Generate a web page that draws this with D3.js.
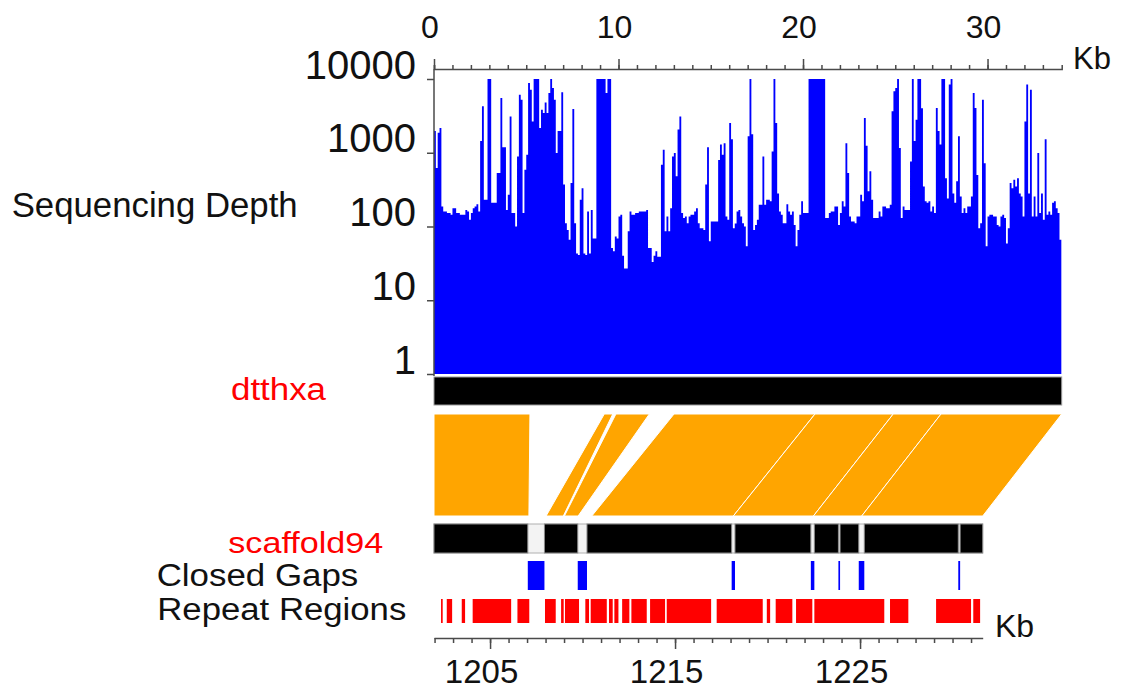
<!DOCTYPE html>
<html><head><meta charset="utf-8">
<script src="https://cdn.jsdelivr.net/npm/d3@7"></script>
<style>
body{margin:0;background:#fff;}
text{font-family:"Liberation Sans",Arial,sans-serif;}
</style>
</head><body>
<svg id="chart" width="1124" height="693"></svg>
<script>
// ---------------- DATA ----------------
// sequencing depth, one value per 0.1 kb step along dtthxa (0 .. 34 kb)
const depthStepKb = 0.1;
const depthValues = [
 1970,620,1870,2160,187,160,160,152,152,144,
 177,177,152,152,144,144,144,168,160,123,
 152,177,187,200,160,1440,4260,230,230,10000,
 10000,210,210,210,530,530,5520,1190,1190,168,
 270,3110,152,152,100,890,6120,5240,152,590,
 940,8830,7160,2660,10000,10000,10000,2160,3840,3450,
 4820,3450,6460,10000,7550,5240,990,1970,1970,6600,
 370,111,90,66,390,3920,111,43,41,230,
 330,43,41,160,43,168,69,69,10000,10000,
 10000,10000,10000,6460,10000,10000,51,46,73,69,
 137,144,40,27,27,86,160,144,144,152,
 152,160,160,160,160,168,51,51,33,40,
 46,39,39,690,1100,86,137,86,177,890,
 990,480,2060,3110,152,130,137,111,137,144,
 144,160,177,111,95,95,90,370,1190,63,
 117,117,117,117,800,1290,940,1350,137,123,
 2530,1520,95,110,160,168,137,111,100,54,
 1670,10000,1780,90,105,123,197,197,890,197,
 230,230,220,1040,10000,2530,280,160,144,111,
 111,200,160,144,160,105,54,90,144,220,
 152,152,152,10000,10000,10000,10000,10000,10000,10000,
 10000,10000,130,130,152,160,160,187,187,105,
 152,220,187,1350,530,137,117,117,111,137,
 137,270,220,2960,1240,300,560,230,130,130,
 130,160,137,187,187,177,177,197,3640,6800,
 7550,10000,1160,130,187,168,168,168,760,10000,
 1440,2810,10000,10000,4000,350,220,210,220,160,
 187,152,4040,1970,1290,10000,10000,450,240,8400,
 10000,280,210,410,1670,255,152,177,152,187,
 187,255,6460,4040,500,95,111,5240,720,54,
 137,144,144,137,137,105,100,137,144,130,
 59,95,390,330,430,350,450,280,255,137,
 2660,8400,280,7160,137,255,137,990,152,280,
 123,1520,144,160,144,210,220,177,152,66
];
const depthTicks = [1, 10, 100, 1000, 10000];
const topMajorTicks = [0, 10, 20, 30];
const bottomMajorTicks = [1205, 1215, 1225];

const contigName = "dtthxa";
const contigLengthKb = 34.02;
const scaffoldName = "scaffold94";
const scaffoldStartKb = 1201.97;
const scaffoldEndKb = 1231.63;

// alignments: contig interval (kb) -> scaffold interval (kb)
const alignContig = [[0,5.2],[9.23,9.69],[9.86,11.67],[13.01,20.65],[20.65,24.89],[24.89,27.48],[27.48,34.02]];
const alignScaffold = [[1201.97,1207.1],[1208.03,1208.96],[1209.02,1209.76],[1210.5,1218.15],[1218.15,1222.48],[1222.48,1225.09],[1225.09,1231.63]];

const closedGaps = [[1207.04,1207.94],[1209.74,1210.24],[1218.06,1218.24],[1222.34,1222.53],[1223.83,1223.92],[1224.93,1225.23],[1230.31,1230.41]];

const repeatRegions = [
 [1202.35,1202.44],[1202.66,1202.95],[1203.47,1203.65],[1204.06,1206.14],[1206.48,1207.12],
 [1207.97,1208.55],[1208.84,1208.98],[1209.05,1209.81],[1210.15,1210.35],[1210.44,1211.31],
 [1211.43,1211.63],[1211.72,1211.94],[1212.14,1212.53],[1212.64,1213.47],[1213.65,1214.46],
 [1214.55,1216.95],[1217.25,1219.74],[1219.96,1220.14],[1220.44,1221.34],[1221.54,1222.42],
 [1222.53,1226.31],[1226.62,1227.61],[1229.11,1231.0],[1231.12,1231.49]
];

// ---------------- DRAW ----------------
const svg = d3.select("#chart");
const axisColor = "#4a4a4a";

const xTop = d3.scaleLinear().domain([0, contigLengthKb]).range([434, 1061.7]);
const xBot = d3.scaleLinear().domain([scaffoldStartKb, scaffoldEndKb]).range([434, 982.7]);
const y = d3.scaleLog().domain([1, 10000]).range([374, 79]);

// depth area
const pts = depthValues.map((v, i) => ({x: i * depthStepKb, v}));
pts.push({x: depthValues.length * depthStepKb, v: depthValues[depthValues.length - 1]});
const area = d3.area().curve(d3.curveStepAfter)
  .x(d => xTop(d.x)).y0(y(1)).y1(d => y(Math.min(d.v, 10000)));
svg.append("path").datum(pts).attr("d", area).attr("fill", "#0000ff");

// top axis: minor + major
const topMinor = svg.append("g").attr("transform", "translate(0,69)")
  .call(d3.axisTop(xTop).tickValues(d3.range(0, 34)).tickSize(4).tickSizeOuter(4).tickFormat(""));
const topMajor = svg.append("g").attr("transform", "translate(0,69)")
  .call(d3.axisTop(xTop).tickValues(topMajorTicks).tickSize(10).tickSizeOuter(0).tickFormat(d3.format("d")));
topMajor.select(".domain").remove();
[topMinor, topMajor].forEach(g => {
  g.selectAll("path,line").attr("stroke", axisColor).attr("stroke-width", 1.5);
});
topMajor.selectAll("text").attr("y", -31).attr("dy", 0).attr("dx", -4.5)
  .attr("font-size", 32).attr("fill", "#111").style("font-family", '"Liberation Sans",Arial,sans-serif');
svg.append("text").attr("x", 1073).attr("y", 69).attr("font-size", 31).attr("fill", "#111").text("Kb");

// y axis
const yAx = svg.append("g").attr("transform", "translate(434,0)")
  .call(d3.axisLeft(y).tickValues(depthTicks).tickSize(7).tickSizeOuter(0).tickFormat(d3.format("d")));
yAx.select(".domain").remove();
yAx.selectAll("line").attr("stroke", axisColor).attr("stroke-width", 1.5);
yAx.selectAll("text").attr("x", -18).attr("dy", 0).attr("y", -1)
  .attr("font-size", 40).attr("fill", "#111").style("font-family", '"Liberation Sans",Arial,sans-serif');
svg.append("line").attr("x1", 434).attr("x2", 434).attr("y1", 69).attr("y2", 376)
  .attr("stroke", axisColor).attr("stroke-width", 1.5);

svg.append("text").attr("x", 11.7).attr("y", 216.7).attr("font-size", 35).attr("fill", "#111")
  .attr("textLength", 286).attr("lengthAdjust", "spacingAndGlyphs").text("Sequencing Depth");

// contig bar
svg.append("rect").attr("x", xTop(0)).attr("y", 377).attr("width", xTop(contigLengthKb) - xTop(0)).attr("height", 28)
  .attr("fill", "#000").attr("stroke", "#9a9a9a").attr("stroke-width", 1);
svg.append("text").attr("x", 231).attr("y", 400).attr("font-size", 31).attr("fill", "#ff0000")
  .attr("textLength", 95).attr("lengthAdjust", "spacingAndGlyphs").text(contigName);

// alignments
svg.append("g").selectAll("polygon").data(alignContig.map((c, i) => ({c, s: alignScaffold[i]})))
  .join("polygon")
  .attr("points", d => [[xTop(d.c[0]), 414], [xTop(d.c[1]), 414], [xBot(d.s[1]), 516], [xBot(d.s[0]), 516]].map(p => p.join(",")).join(" "))
  .attr("fill", "#ffa500").attr("stroke", "#fff").attr("stroke-width", 1).attr("stroke-linejoin", "round");

// scaffold bar with gaps
svg.append("rect").attr("x", xBot(scaffoldStartKb)).attr("y", 524).attr("width", xBot(scaffoldEndKb) - xBot(scaffoldStartKb)).attr("height", 29)
  .attr("fill", "#f3f3f3").attr("stroke", "#b0b0b0").attr("stroke-width", 1);
const bounds = [scaffoldStartKb, ...closedGaps.flat(), scaffoldEndKb];
const segs = [];
for (let i = 0; i < bounds.length; i += 2) segs.push([bounds[i], bounds[i + 1]]);
svg.append("g").selectAll("rect").data(segs).join("rect")
  .attr("x", d => xBot(d[0])).attr("y", 524).attr("width", d => xBot(d[1]) - xBot(d[0])).attr("height", 29)
  .attr("fill", "#000").attr("stroke", "#8a8a8a").attr("stroke-width", 1);
svg.append("text").attr("x", 228.3).attr("y", 553).attr("font-size", 30).attr("fill", "#ff0000")
  .attr("textLength", 155).attr("lengthAdjust", "spacingAndGlyphs").text(scaffoldName);

// closed gaps
svg.append("g").selectAll("rect").data(closedGaps).join("rect")
  .attr("x", d => xBot(d[0])).attr("y", 561).attr("width", d => Math.max(1.5, xBot(d[1]) - xBot(d[0]))).attr("height", 29)
  .attr("fill", "#0000ff");
svg.append("text").attr("x", 156.7).attr("y", 586).attr("font-size", 31).attr("fill", "#111")
  .attr("textLength", 201.6).attr("lengthAdjust", "spacingAndGlyphs").text("Closed Gaps");

// repeat regions
svg.append("g").selectAll("rect").data(repeatRegions).join("rect")
  .attr("x", d => xBot(d[0])).attr("y", 599).attr("width", d => Math.max(1.5, xBot(d[1]) - xBot(d[0]))).attr("height", 24)
  .attr("fill", "#ff0000");
svg.append("text").attr("x", 157.3).attr("y", 620).attr("font-size", 31).attr("fill", "#111")
  .attr("textLength", 249).attr("lengthAdjust", "spacingAndGlyphs").text("Repeat Regions");

// bottom axis
const botMinor = svg.append("g").attr("transform", "translate(0,638)")
  .call(d3.axisBottom(xBot).tickValues(d3.range(1202, 1232)).tickSize(5).tickSizeOuter(0).tickFormat(""));
const botMajor = svg.append("g").attr("transform", "translate(0,638)")
  .call(d3.axisBottom(xBot).tickValues(bottomMajorTicks).tickSize(11).tickSizeOuter(0).tickFormat(d3.format("d")));
botMajor.select(".domain").remove();
[botMinor, botMajor].forEach(g => g.selectAll("path,line").attr("stroke", axisColor).attr("stroke-width", 1.5));
botMajor.selectAll("text").attr("y", 45).attr("dy", 0).attr("dx", -9)
  .attr("font-size", 33).attr("fill", "#111").style("font-family", '"Liberation Sans",Arial,sans-serif');
svg.append("text").attr("x", 995).attr("y", 637).attr("font-size", 32).attr("fill", "#111").text("Kb");
</script>
</body></html>
